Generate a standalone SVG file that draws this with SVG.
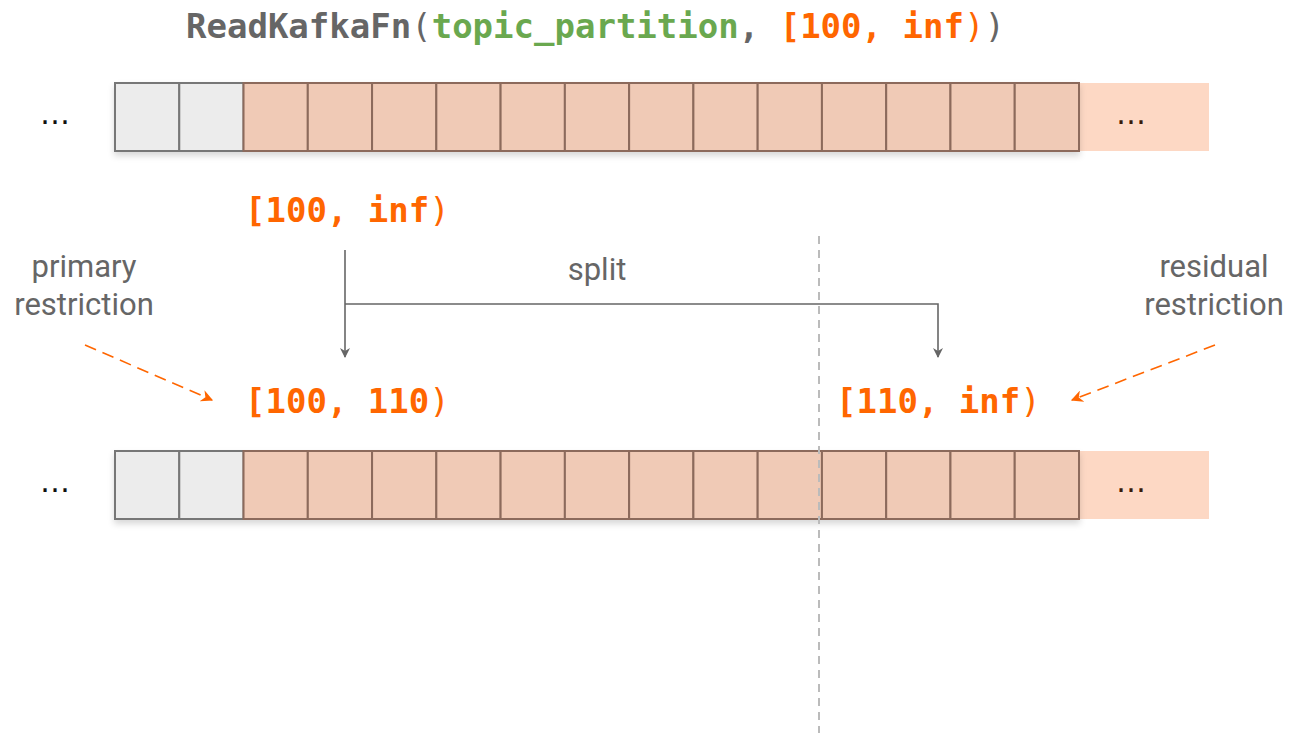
<svg xmlns="http://www.w3.org/2000/svg" width="1292" height="733" viewBox="0 0 1292 733">
<style>
.mono{font-family:"DejaVu Sans Mono","Liberation Mono",monospace;font-size:34px;font-weight:bold}
.lbl{font-family:Roboto,"Noto Sans",sans-serif;font-size:31px;fill:#666}
.g{fill:#ececec;stroke:#777;stroke-width:2}
.s{fill:#f0cab6;stroke:#8c6a5b;stroke-width:2}
.tail{fill:#fdd8c4}
.dots{font-family:"DejaVu Sans",sans-serif;font-size:30px}
.conn{fill:none;stroke:#666;stroke-width:1.6}
.oar{fill:none;stroke:#ff6600;stroke-width:1.6;stroke-dasharray:12,7}
</style>
<defs>
<marker id="ga" viewBox="0 0 10 10" refX="9" refY="5" markerWidth="10" markerHeight="10" markerUnits="userSpaceOnUse" orient="auto"><path d="M0,0 L10,5 L0,10 L3,5 z" fill="#666"/></marker>
<marker id="oa" viewBox="0 0 10 10" refX="9" refY="5" markerWidth="12" markerHeight="12" markerUnits="userSpaceOnUse" orient="auto"><path d="M0,0 L10,5 L0,10 L3,5 z" fill="#ff6600"/></marker>
<filter id="sh" x="-5%" y="-20%" width="110%" height="160%"><feDropShadow dx="0" dy="4" stdDeviation="3" flood-color="#000" flood-opacity="0.15"/></filter>
</defs>

<g id="title">
<text class="mono" x="186" y="38"><tspan fill="#666">ReadKafkaFn</tspan><tspan fill="#666" font-weight="normal">(</tspan><tspan fill="#6aa84f">topic_partition</tspan><tspan fill="#666">, </tspan><tspan fill="#ff6600">[100, inf</tspan><tspan fill="#ff6600" font-weight="normal">)</tspan><tspan fill="#666" font-weight="normal">)</tspan></text>
</g>

<g id="row-top">
<rect class="tail" x="1079" y="83" width="130" height="68"/>
<g filter="url(#sh)">
<rect class="g" x="115" y="83" width="64.27" height="68"/>
<rect class="g" x="179.27" y="83" width="64.27" height="68"/>
<rect class="s" x="243.53" y="83" width="64.27" height="68"/>
<rect class="s" x="307.8" y="83" width="64.27" height="68"/>
<rect class="s" x="372.07" y="83" width="64.27" height="68"/>
<rect class="s" x="436.33" y="83" width="64.27" height="68"/>
<rect class="s" x="500.6" y="83" width="64.27" height="68"/>
<rect class="s" x="564.87" y="83" width="64.27" height="68"/>
<rect class="s" x="629.13" y="83" width="64.27" height="68"/>
<rect class="s" x="693.4" y="83" width="64.27" height="68"/>
<rect class="s" x="757.67" y="83" width="64.27" height="68"/>
<rect class="s" x="821.93" y="83" width="64.27" height="68"/>
<rect class="s" x="886.2" y="83" width="64.27" height="68"/>
<rect class="s" x="950.47" y="83" width="64.27" height="68"/>
<rect class="s" x="1014.73" y="83" width="64.27" height="68"/>
</g>
<text class="dots" x="55" y="124" text-anchor="middle" fill="#111">…</text>
<text class="dots" x="1131" y="124" text-anchor="middle" fill="#3a1a0a">…</text>
</g>

<g id="row-bottom">
<rect class="tail" x="1079" y="451" width="130" height="68"/>
<g filter="url(#sh)">
<rect class="g" x="115" y="451" width="64.27" height="68"/>
<rect class="g" x="179.27" y="451" width="64.27" height="68"/>
<rect class="s" x="243.53" y="451" width="64.27" height="68"/>
<rect class="s" x="307.8" y="451" width="64.27" height="68"/>
<rect class="s" x="372.07" y="451" width="64.27" height="68"/>
<rect class="s" x="436.33" y="451" width="64.27" height="68"/>
<rect class="s" x="500.6" y="451" width="64.27" height="68"/>
<rect class="s" x="564.87" y="451" width="64.27" height="68"/>
<rect class="s" x="629.13" y="451" width="64.27" height="68"/>
<rect class="s" x="693.4" y="451" width="64.27" height="68"/>
<rect class="s" x="757.67" y="451" width="64.27" height="68"/>
<rect class="s" x="821.93" y="451" width="64.27" height="68"/>
<rect class="s" x="886.2" y="451" width="64.27" height="68"/>
<rect class="s" x="950.47" y="451" width="64.27" height="68"/>
<rect class="s" x="1014.73" y="451" width="64.27" height="68"/>
</g>
<text class="dots" x="55" y="492" text-anchor="middle" fill="#111">…</text>
<text class="dots" x="1131" y="492" text-anchor="middle" fill="#3a1a0a">…</text>
</g>

<g id="split-line">
<line x1="819" y1="236" x2="819" y2="733" stroke="#bbb" stroke-width="2" stroke-dasharray="8,6"/>
</g>

<g id="range-full">
<text class="mono" x="245" y="222" fill="#ff6600">[100, inf<tspan font-weight="normal">)</tspan></text>
</g>
<g id="range-primary">
<text class="mono" x="245" y="413" fill="#ff6600">[100, 110<tspan font-weight="normal">)</tspan></text>
</g>
<g id="range-residual">
<text class="mono" x="836" y="413" fill="#ff6600">[110, inf<tspan font-weight="normal">)</tspan></text>
</g>

<g id="label-primary">
<text class="lbl" x="84" y="277" text-anchor="middle">primary</text>
<text class="lbl" x="84" y="315" text-anchor="middle">restriction</text>
</g>
<g id="label-residual">
<text class="lbl" x="1214" y="277" text-anchor="middle">residual</text>
<text class="lbl" x="1214" y="315" text-anchor="middle">restriction</text>
</g>
<g id="label-split">
<text class="lbl" x="597" y="280" text-anchor="middle" font-size="30">split</text>
</g>

<g id="connectors">
<path class="conn" d="M345,250 L345,357" marker-end="url(#ga)"/>
<path class="conn" d="M345,304 L938,304 L938,357" marker-end="url(#ga)"/>
<path class="oar" d="M85,345 L212,400" marker-end="url(#oa)"/>
<path class="oar" d="M1215,345 L1072,400" marker-end="url(#oa)"/>
</g>
</svg>
